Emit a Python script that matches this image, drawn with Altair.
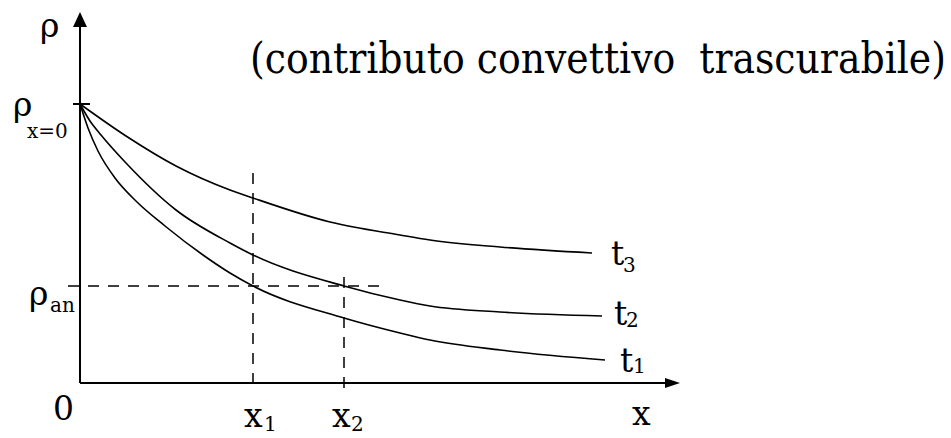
import altair as alt
import pandas as pd

# Concentration profiles rho(x) at three successive times t1 < t2 < t3
t1_x = [0.00, 0.08, 0.18, 0.35, 0.57, 0.85, 1.23, 1.50, 1.73, 2.64, 3.20, 3.50, 4.20, 5.25]
t1_y = [2.79, 2.55, 2.32, 2.05, 1.81, 1.57, 1.28, 1.10, 0.97, 0.65, 0.50, 0.43, 0.33, 0.23]
t2_x = [0.00, 0.10, 0.21, 0.46, 0.96, 1.50, 1.73, 2.64, 3.20, 3.50, 4.20, 5.22]
t2_y = [2.79, 2.62, 2.48, 2.20, 1.73, 1.40, 1.28, 0.97, 0.83, 0.77, 0.71, 0.67]
t3_x = [0.00, 0.46, 0.96, 1.50, 1.73, 2.50, 3.20, 3.50, 4.20, 5.12]
t3_y = [2.79, 2.47, 2.17, 1.93, 1.85, 1.61, 1.48, 1.43, 1.36, 1.30]

# Reference levels and positions
rho_x0 = 2.79
rho_an = 0.97
x1 = 1.73
x2 = 2.64
x_axis_end = 6.0
y_axis_end = 3.71

X = alt.Scale(domain=[-0.8, 8.71], nice=False, zero=False)
Y = alt.Scale(domain=[-0.55, 3.83], nice=False, zero=False)

def xe(field="x", **kw):
    return alt.X(field, type="quantitative", scale=X, axis=None, **kw)

def ye(field="y", **kw):
    return alt.Y(field, type="quantitative", scale=Y, axis=None, **kw)

curves = pd.concat([
    pd.DataFrame({"x": t1_x, "y": t1_y, "serie": "t1"}),
    pd.DataFrame({"x": t2_x, "y": t2_y, "serie": "t2"}),
    pd.DataFrame({"x": t3_x, "y": t3_y, "serie": "t3"}),
])

lines = alt.Chart(curves).mark_line(
    color="black", strokeWidth=1.6, interpolate="monotone"
).encode(x=xe(), y=ye(), detail="serie:N")

# Axes drawn as plain segments with arrow heads
axes_df = pd.DataFrame({
    "x": [0.0, 0.0, -0.07],
    "x2": [x_axis_end - 0.1, 0.0, 0.10],
    "y": [0.0, 0.0, rho_x0],
    "y2": [0.0, y_axis_end - 0.1, rho_x0],
})
axes = alt.Chart(axes_df).mark_rule(color="black", strokeWidth=2).encode(
    x=xe(), x2="x2", y=ye(), y2="y2"
)

arrow_x = alt.Chart(pd.DataFrame({"x": [x_axis_end - 0.075], "y": [0.0]})).mark_point(
    shape="M-1,-0.67L1,0L-1,0.67Z", size=225, filled=True, color="black", opacity=1
).encode(x=xe(), y=ye())
arrow_y = alt.Chart(pd.DataFrame({"x": [0.0], "y": [y_axis_end - 0.075]})).mark_point(
    shape="M-0.93,1L0,-1L0.93,1Z", size=225, filled=True, color="black", opacity=1
).encode(x=xe(), y=ye())

# Dashed guides: rho_an level and the two positions x1, x2
guides_df = pd.DataFrame({
    "x": [-0.12, x1, x2],
    "x2": [3.07, x1, x2],
    "y": [rho_an, 2.10, 1.06],
    "y2": [rho_an, -0.10, -0.10],
})
guides = alt.Chart(guides_df).mark_rule(
    color="black", strokeWidth=1.5, strokeDash=[11, 9]
).encode(x=xe(), x2="x2", y=ye(), y2="y2")

# Text labels (main glyphs and subscripts)
main_labels = pd.DataFrame({
    "x": [-0.40, -0.67, -0.51, -0.27, 5.52, 1.64, 2.52, 5.31, 5.34, 5.40],
    "y": [3.46, 2.67, 0.78, -0.37, -0.42, -0.44, -0.44, 1.18, 0.58, 0.11],
    "text": ["ρ", "ρ", "ρ", "0", "x", "x", "x", "t", "t", "t"],
})
sub_labels = pd.DataFrame({
    "x": [-0.53, -0.30, 1.84, 2.71, 5.43, 5.46, 5.53],
    "y": [2.45, 0.71, -0.48, -0.48, 1.11, 0.56, 0.10],
    "text": ["x=0", "an", "1", "2", "3", "2", "1"],
})

main_text = alt.Chart(main_labels).mark_text(
    font="DejaVu Serif", fontSize=33, align="left", baseline="alphabetic", color="black"
).encode(x=xe(), y=ye(), text="text:N")
sub_text = alt.Chart(sub_labels).mark_text(
    font="DejaVu Serif", fontSize=20, align="left", baseline="alphabetic", color="black"
).encode(x=xe(), y=ye(), text="text:N")

title = alt.Chart(pd.DataFrame({"t": ["(contributo convettivo\u00a0 trascurabile)"]})).mark_text(
    font="DejaVu Serif Condensed", fontSize=42, align="left", baseline="alphabetic", color="black"
).encode(x=alt.value(250), y=alt.value(73), text="t:N")

chart = alt.layer(
    guides, lines, axes, arrow_x, arrow_y, main_text, sub_text, title
).properties(
    width=951, height=438, padding=0,
    autosize=alt.AutoSizeParams(type="none"),
    background="white",
).configure_view(stroke=None)

chart.save("out.html", embed_options={"renderer": "svg", "actions": False})
